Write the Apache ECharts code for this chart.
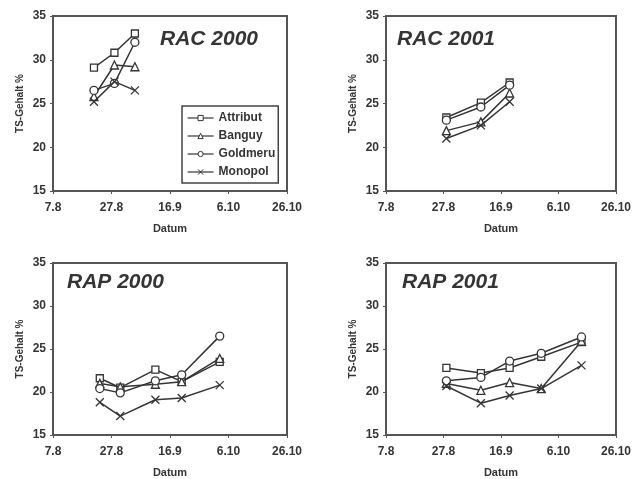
<!DOCTYPE html>
<html>
<head>
<meta charset="utf-8">
<script src="https://cdn.jsdelivr.net/npm/echarts@6/dist/echarts.min.js"></script>
<style>html,body{margin:0;padding:0;background:#fff;}#c{width:634px;height:479px;}</style>
</head>
<body>
<div id="c"></div>
<script>
// x values are days after 7 August
const xTickLabels = ['7.8', '27.8', '16.9', '6.10', '26.10'];
const varieties = ['Attribut', 'Banguy', 'Goldmeru', 'Monopol'];
const panelTitles = ['RAC 2000', 'RAC 2001', 'RAP 2000', 'RAP 2001'];

const rac2000Days = [14, 21, 28];
const rac2000Attribut = [29.1, 30.8, 33.0];
const rac2000Banguy = [25.8, 29.4, 29.2];
const rac2000Goldmeru = [26.5, 27.3, 32.0];
const rac2000Monopol = [25.2, 27.5, 26.5];

const rac2001Days = [21, 33, 43];
const rac2001Attribut = [23.4, 25.1, 27.4];
const rac2001Banguy = [21.9, 22.9, 26.2];
const rac2001Goldmeru = [23.1, 24.6, 27.1];
const rac2001Monopol = [21.0, 22.5, 25.2];

const rap2000Days = [16, 23, 35, 44, 57];
const rap2000Attribut = [21.6, 20.5, 22.6, 21.2, 23.5];
const rap2000Banguy = [21.0, 20.6, 20.9, 21.2, 23.9];
const rap2000Goldmeru = [20.4, 19.9, 21.3, 22.0, 26.5];
const rap2000Monopol = [18.8, 17.2, 19.1, 19.3, 20.8];

const rap2001Days = [21, 33, 43, 54, 68];
const rap2001Attribut = [22.8, 22.2, 22.8, 24.1, 25.8];
const rap2001Banguy = [21.0, 20.2, 21.1, 20.4, 25.9];
const rap2001Goldmeru = [21.3, 21.7, 23.6, 24.5, 26.4];
const rap2001Monopol = [20.7, 18.7, 19.6, 20.4, 23.1];

const panels = [
  {days: rac2000Days, vals: [rac2000Attribut, rac2000Banguy, rac2000Goldmeru, rac2000Monopol]},
  {days: rac2001Days, vals: [rac2001Attribut, rac2001Banguy, rac2001Goldmeru, rac2001Monopol]},
  {days: rap2000Days, vals: [rap2000Attribut, rap2000Banguy, rap2000Goldmeru, rap2000Monopol]},
  {days: rap2001Days, vals: [rap2001Attribut, rap2001Banguy, rap2001Goldmeru, rap2001Monopol]}
];

const INK = '#353535';
const FONT = 'Liberation Sans, Arial, sans-serif';
const symbols = ['rect', 'triangle', 'circle', 'path://M0,0L10,10M10,0L0,10'];
const grids = [
  {left: 53, top: 16, width: 234, height: 175},
  {left: 386, top: 16, width: 233, height: 175},
  {left: 53, top: 263, width: 234, height: 172},
  {left: 386, top: 263, width: 233, height: 172}
];
const titlePos = [{left: 160, top: 29}, {left: 397, top: 29}, {left: 67, top: 272}, {left: 402, top: 272}];

const chart = echarts.init(document.getElementById('c'), null, {renderer: 'canvas'});
const xAxes = [], yAxes = [], series = [], titles = [];
grids.forEach((g, i) => {
  g.show = true; g.borderColor = '#555'; g.borderWidth = 2; g.backgroundColor = '#fff';
  xAxes.push({
    type: 'value', gridIndex: i, min: 0, max: 80, interval: 20,
    name: 'Datum', nameLocation: 'middle', nameGap: 32,
    nameTextStyle: {fontSize: 11, fontWeight: 'bold', color: INK, fontFamily: FONT},
    axisLine: {show: true, lineStyle: {color: '#555', width: 2}},
    axisTick: {show: true, length: 3, lineStyle: {color: '#555'}},
    splitLine: {show: false},
    axisLabel: {margin: 11, fontSize: 12, fontWeight: 'bold', color: INK, fontFamily: FONT,
      formatter: v => xTickLabels[Math.round(v / 20)]}
  });
  yAxes.push({
    type: 'value', gridIndex: i, min: 15, max: 35, interval: 5,
    name: 'TS-Gehalt %', nameLocation: 'middle', nameGap: 28,
    nameTextStyle: {fontSize: 10, fontWeight: 'bold', color: INK, fontFamily: FONT},
    axisLine: {show: true, lineStyle: {color: '#555', width: 2}},
    axisTick: {show: true, length: 3, lineStyle: {color: '#555'}},
    splitLine: {show: false},
    axisLabel: {margin: 7, fontSize: 12, fontWeight: 'bold', color: INK, fontFamily: FONT}
  });
  titles.push({
    text: panelTitles[i], left: titlePos[i].left, top: titlePos[i].top, padding: 0,
    textStyle: {fontSize: 21, fontStyle: 'italic', fontWeight: 'bold', color: INK, fontFamily: FONT}
  });
  const p = panels[i];
  varieties.forEach((name, k) => {
    series.push({
      type: 'line', name: name, xAxisIndex: i, yAxisIndex: i,
      data: p.days.map((d, j) => [d, p.vals[k][j]]),
      symbol: symbols[k], symbolSize: k === 0 ? 7 : 8, showAllSymbol: true,
      lineStyle: {color: INK, width: 1.5},
      itemStyle: {color: '#fff', borderColor: INK, borderWidth: 1.3},
      emphasis: {disabled: true}, animation: false, z: 3 + k
    });
  });
});

chart.setOption({
  backgroundColor: '#fff',
  animation: false,
  textStyle: {fontFamily: FONT},
  title: titles,
  legend: {
    data: varieties,
    orient: 'vertical', left: 182, top: 106,
    padding: [6, 3, 5, 5], itemGap: 6, itemWidth: 26, itemHeight: 6.5,
    backgroundColor: '#fff', borderColor: '#444', borderWidth: 1.5, borderRadius: 0,
    selectedMode: false,
    lineStyle: {width: 1.2, color: INK},
    itemStyle: {borderWidth: 1, borderColor: INK, color: '#fff'},
    textStyle: {fontSize: 12, fontWeight: 'bold', color: INK, fontFamily: FONT}
  },
  grid: grids,
  xAxis: xAxes,
  yAxis: yAxes,
  series: series
});
</script>
</body>
</html>
